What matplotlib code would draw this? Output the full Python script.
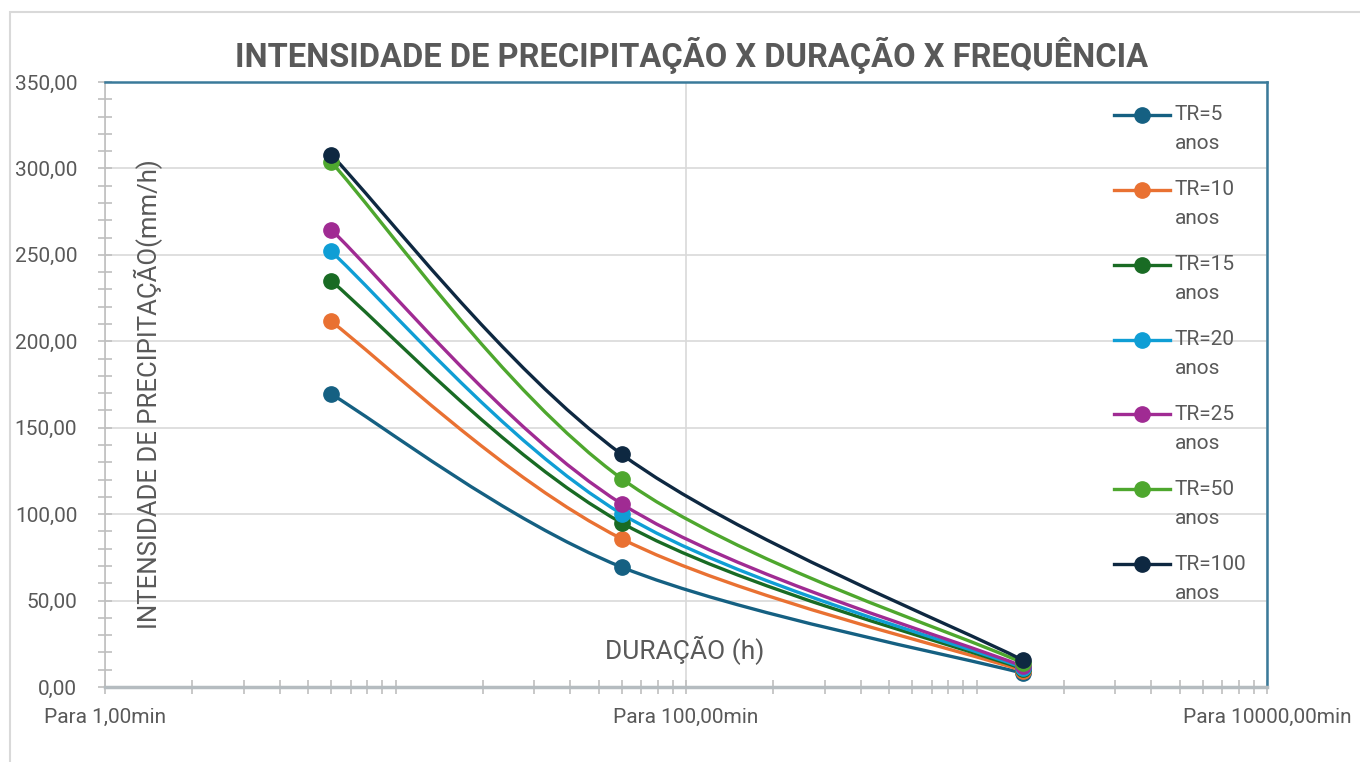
import numpy as np
import matplotlib
matplotlib.use("Agg")
import matplotlib.pyplot as plt
from matplotlib.path import Path
from matplotlib.patches import PathPatch, Rectangle
from matplotlib.lines import Line2D
from matplotlib.legend_handler import HandlerLine2D
from matplotlib.ticker import FixedLocator, NullFormatter

# duration in minutes, intensity in mm/h
duracao = [6, 60, 1440]
tr5 = [169.5, 69.4, 8.0]
tr10 = [211.5, 85.8, 9.5]
tr15 = [235.0, 95.0, 10.5]
tr20 = [252.0, 100.2, 11.2]
tr25 = [264.6, 106.0, 12.0]
tr50 = [303.8, 120.6, 14.0]
tr100 = [308.0, 134.7, 15.6]

series = [tr5, tr10, tr15, tr20, tr25, tr50, tr100]
nomes = ["TR=5\nanos", "TR=10\nanos", "TR=15\nanos", "TR=20\nanos",
         "TR=25\nanos", "TR=50\nanos", "TR=100\nanos"]
cores = ["#156082", "#E97132", "#196B24", "#0F9ED5", "#A02B93", "#4EA72E", "#0E2841"]

x_ticks = [1, 100, 10000]
x_labels = ["Para 1,00min", "Para 100,00min", "Para 10000,00min"]
y_ticks = [0, 50, 100, 150, 200, 250, 300, 350]

narrow = ["Liberation Sans Narrow", "Roboto", "DejaVu Sans"]
regular = ["Roboto", "DejaVu Sans"]
cinza = "#595959"


def smooth_path(x, y):
    # excel-like smoothed line: catmull-rom bezier in (log x, y) space
    lx = np.log10(x)
    pts = np.column_stack([lx, y])
    n = len(pts)
    verts = [pts[0]]
    codes = [Path.MOVETO]
    for i in range(n - 1):
        p0 = pts[max(i - 1, 0)]
        p1 = pts[i]
        p2 = pts[i + 1]
        p3 = pts[min(i + 2, n - 1)]
        c1 = p1 + (p2 - p0) / 6
        c2 = p2 - (p3 - p1) / 6
        verts += [c1, c2, p2]
        codes += [Path.CURVE4] * 3
    verts = np.array(verts)
    verts[:, 0] = 10 ** verts[:, 0]
    return Path(verts, codes)


class UpHandler(HandlerLine2D):
    # put the legend line next to the first text line, not the middle
    def create_artists(self, legend, orig_handle, xdescent, ydescent,
                       width, height, fontsize, trans):
        arts = super().create_artists(legend, orig_handle, xdescent, ydescent,
                                      width, height, fontsize, trans)
        for a in arts:
            a.set_ydata(np.asarray(a.get_ydata()) + 0.7 * fontsize)
        return arts


fig = plt.figure(figsize=(13.6, 7.62), dpi=100)
fig.patches.append(Rectangle((10 / 1360, -0.05), 1.2, 1 - 12 / 762 + 0.05,
                             transform=fig.transFigure, fill=False,
                             edgecolor="#D9D9D9", linewidth=1.5))
ax = fig.add_axes([105 / 1360, 75 / 762, 1162 / 1360, 605 / 762])
ax.set_xscale("log")
ax.set_xlim(1, 10000)
ax.set_ylim(0, 350)

handles = []
for vals, nome, cor in zip(series, nomes, cores):
    ax.add_patch(PathPatch(smooth_path(duracao, vals), facecolor="none",
                           edgecolor=cor, linewidth=2.4, zorder=3))
    ax.plot(duracao, vals, linestyle="none", marker="o", markersize=11,
            color=cor, zorder=4)
    handles.append(Line2D([], [], color=cor, linewidth=2.4, marker="o",
                          markersize=11))

ax.xaxis.set_major_locator(FixedLocator(x_ticks))
ax.set_xticklabels(x_labels)
minors = [m * 10 ** e for e in range(4) for m in range(1, 10) if m * 10 ** e not in x_ticks]
ax.xaxis.set_minor_locator(FixedLocator(minors))
ax.xaxis.set_minor_formatter(NullFormatter())
ax.set_yticks(y_ticks)
ax.set_yticklabels([f"{v:.2f}".replace(".", ",") for v in y_ticks])
ax.yaxis.set_minor_locator(FixedLocator(np.arange(0, 351, 10)))

ax.grid(True, which="major", color="#D9D9D9", linewidth=1.2)
ax.set_axisbelow(True)
for t in ax.get_xticklabels() + ax.get_yticklabels():
    t.set_family(regular)
    t.set_fontsize(15)
    t.set_color(cinza)
ax.tick_params(axis="both", which="both", direction="inout", color="#BFBFBF",
               width=1.2)
ax.tick_params(axis="y", which="both", length=10, pad=15)
ax.tick_params(axis="x", which="both", length=10, pad=10)

ax.spines["left"].set_color("#BFBFBF")
ax.spines["left"].set_linewidth(1.2)
ax.spines["bottom"].set_color("#B5BCC0")
ax.spines["bottom"].set_linewidth(2.5)
for s in ["top", "right"]:
    ax.spines[s].set_color("#3A7A9A")
    ax.spines[s].set_linewidth(1.8)

ax.text(0.037, 0.484, "INTENSIDADE DE PRECIPITAÇÃO(mm/h)", transform=ax.transAxes,
        rotation=90, ha="center", va="center", fontsize=18.5, color=cinza,
        family=regular)
ax.text(0.499, 0.061, "DURAÇÃO (h)", transform=ax.transAxes, ha="center",
        va="center", fontsize=19, color=cinza, family=narrow)

fig.text(692 / 1360, 1 - 55 / 762, "INTENSIDADE DE PRECIPITAÇÃO X DURAÇÃO X FREQUÊNCIA",
         ha="center", va="center", fontsize=23.5, fontweight="bold", color=cinza,
         family=narrow)

leg = ax.legend(handles, nomes, loc="upper left", bbox_to_anchor=(0.868, 0.962),
                frameon=False, borderpad=0, borderaxespad=0, handlelength=2.7,
                handletextpad=0.22, labelspacing=1.3,
                prop={"family": regular, "size": 15},
                handler_map={Line2D: UpHandler()})
for t in leg.get_texts():
    t.set_color(cinza)
    t.set_linespacing(1.66)

fig.savefig("out.png", dpi=100)
